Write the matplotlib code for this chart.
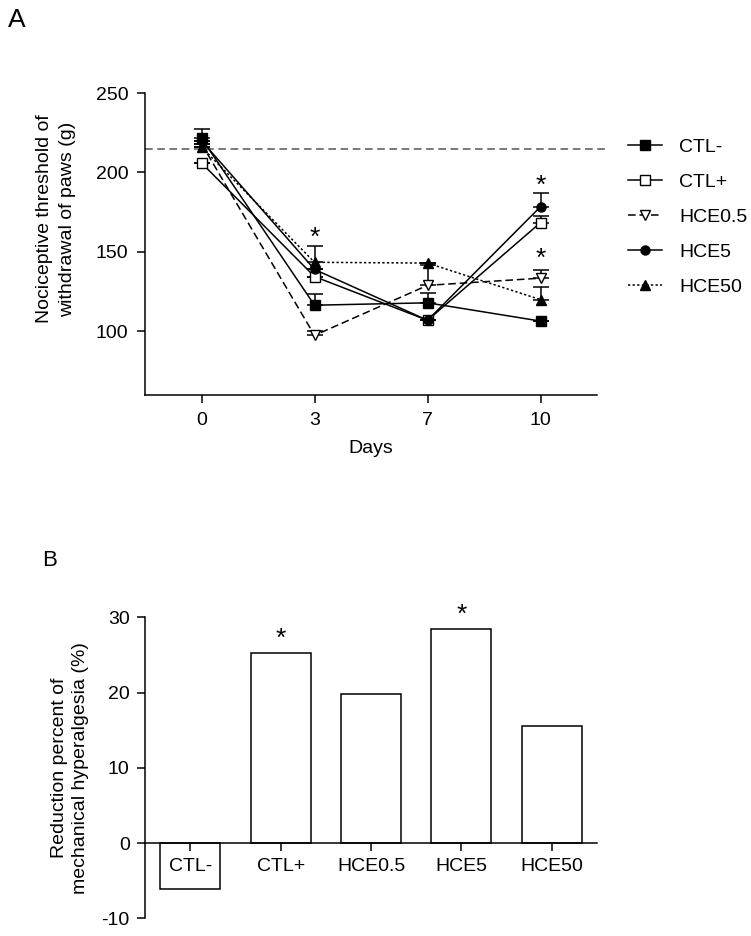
import numpy as np
import matplotlib.pyplot as plt
from matplotlib.lines import Line2D

plt.rcParams['font.family'] = ['Liberation Sans', 'DejaVu Sans']
plt.rcParams['font.size'] = 14
plt.rcParams['axes.unicode_minus'] = False

# panel A data: threshold (g) per day
days = ['0', '3', '7', '10']
groups = ['CTL-', 'CTL+', 'HCE0.5', 'HCE5', 'HCE50']
ctl_neg = [221.5, 116.5, 118, 106.5]
ctl_neg_err = [6, 7, 6, 0]
ctl_pos = [206, 134.5, 107, 168.5]
ctl_pos_err = [0, 0, 0, 4]
hce05 = [218, 97.5, 129, 133.5]
hce05_err = [0, 2.5, 13, 5]
hce5 = [220, 139, 107, 178.5]
hce5_err = [0, 0, 0, 8.5]
hce50 = [216, 143.5, 143, 120]
hce50_err = [0, 10, 0, 8]
baseline = 215

# stars in panel A: (day index, y)
stars_a = [(1, 159), (3, 191.5), (3, 145.5)]

# panel B data: reduction percent
reduction = [-6.1, 25.3, 19.8, 28.4, 15.6]
stars_b = [1, 3]

fig = plt.figure(figsize=(7.51, 9.36), dpi=100)

# ---------- panel A ----------
ax = fig.add_axes([0.1931, 0.578, 0.6019, 0.3226])
x = np.arange(len(days))

series = [
    (ctl_neg, ctl_neg_err, dict(marker='s', ms=7.5, mfc='black', ls='-')),
    (ctl_pos, ctl_pos_err, dict(marker='s', ms=7.5, mfc='white', ls='-')),
    (hce05, hce05_err, dict(marker='v', ms=7.5, mfc='white', ls=(0, (5, 2.5)))),
    (hce5, hce5_err, dict(marker='o', ms=6.5, mfc='black', ls='-')),
    (hce50, hce50_err, dict(marker='^', ms=7.5, mfc='black', ls=(0, (1.5, 1.5)))),
]

handles = []
for (vals, err, st), name in zip(series, groups):
    yerr = [np.zeros(len(err)), err]
    ax.errorbar(x, vals, yerr=yerr, color='black', mec='black', lw=1.1,
                elinewidth=1.1, capsize=5.5, capthick=1.1, **st)
    handles.append(Line2D([], [], color='black', mec='black', lw=1.1, **st))

ax.plot([-0.5, 3.6], [baseline, baseline], color='#555555', lw=1.1,
        ls=(0, (5, 3)), clip_on=False, zorder=0)

for xi, yi in stars_a:
    ax.text(xi, yi, '*', ha='center', va='center', fontsize=19)

ax.set_xlim(-0.5, 3.5)
ax.set_ylim(60, 250)
ax.set_yticks([100, 150, 200, 250])
ax.set_xticks(x)
ax.set_xticklabels(days)
ax.set_xlabel('Days', fontsize=14, labelpad=8)
for s in ['top', 'right']:
    ax.spines[s].set_visible(False)
for s in ['left', 'bottom']:
    ax.spines[s].set_linewidth(1.1)
ax.tick_params(direction='out', length=6, width=1.1, pad=6, labelsize=14)

fig.text(56 / 751, 1 - 219 / 936,
         'Nociceptive threshold of\nwithdrawal of paws (g)',
         rotation=90, ha='center', va='center', fontsize=14, linespacing=1.4)

ax.legend(handles, groups, loc='upper left', bbox_to_anchor=(628 / 751, 1 - 138 / 936),
          bbox_transform=fig.transFigure, frameon=False, fontsize=14, numpoints=1,
          handlelength=1.75, handletextpad=0.88, labelspacing=0.9, borderpad=0,
          borderaxespad=0)

fig.text(17 / 751, 1 - 20 / 936, 'A', fontsize=19, ha='center', va='center')

# ---------- panel B ----------
bx = fig.add_axes([0.1931, 0.0189, 0.6019, 0.3216])
xb = np.arange(len(groups))
bx.bar(xb, reduction, width=0.665, color='white', edgecolor='black', lw=1.1)
for i in stars_b:
    bx.text(xb[i], reduction[i] + 1.9, '*', ha='center', va='center', fontsize=19)

bx.set_xlim(-0.5, 4.5)
bx.set_ylim(-10, 30)
bx.set_yticks([-10, 0, 10, 20, 30])
bx.set_xticks(xb)
bx.set_xticklabels(groups)
bx.spines['bottom'].set_position(('data', 0))
for s in ['top', 'right']:
    bx.spines[s].set_visible(False)
for s in ['left', 'bottom']:
    bx.spines[s].set_linewidth(1.1)
bx.tick_params(direction='out', length=6, width=1.1, pad=5, labelsize=14)

fig.text(70 / 751, 1 - 768 / 936,
         'Reduction percent of\nmechanical hyperalgesia (%)',
         rotation=90, ha='center', va='center', fontsize=14, linespacing=1.35)

fig.text(50 / 751, 1 - 560 / 936, 'B', fontsize=16, ha='center', va='center')

fig.savefig('out.png', dpi=100)
